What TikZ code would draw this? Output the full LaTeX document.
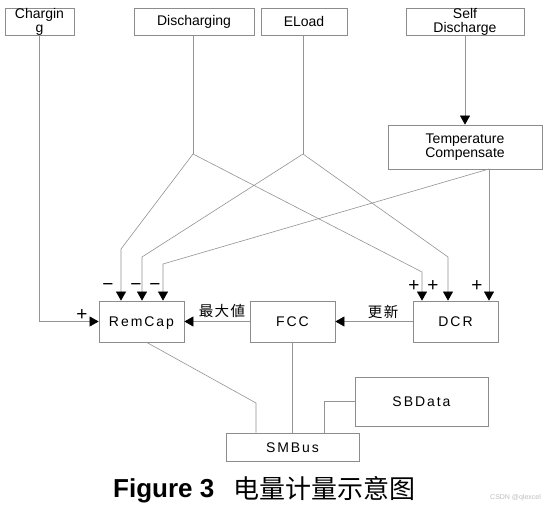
\documentclass[tikz,border=0pt]{standalone}
\usepackage{fontspec}
\setmainfont{Liberation Sans}
\newfontfamily\cjkfont{Noto Sans CJK SC}
\usetikzlibrary{arrows.meta}
\definecolor{boxgray}{HTML}{8C8C8C}
\definecolor{linegray}{HTML}{939393}
\begin{document}
\begin{tikzpicture}[x=1pt,y=-1pt,
  tbox/.style={draw=boxgray, line width=0.8pt, inner sep=0pt, align=center,
    font=\fontsize{14}{14}\selectfont},
  mbox/.style={draw=boxgray, line width=0.8pt, inner sep=0pt,
    minimum width=85pt, minimum height=41pt, text height=10pt, text depth=0pt,
    font=\fontsize{14}{14}\selectfont\addfontfeature{LetterSpace=14}},
  ln/.style={draw=linegray, line width=0.6pt},
  arr/.style={ln, -{Triangle[length=9pt,width=10pt,color=black]}},
  sign/.style={inner sep=0pt, font=\fontsize{19}{19}\selectfont},
  cjklab/.style={inner sep=0pt, font=\fontsize{14.5}{14.5}\cjkfont}
]
\fill[white] (0,0) rectangle (548,510);
\useasboundingbox (0,0) rectangle (548,510);

% top boxes
\node[tbox, minimum width=69pt, minimum height=27pt] (chg) at (39.5,21.5) {Chargin\\g};
\node[tbox, minimum width=120pt, minimum height=27pt] (dis) at (194,21.5) {Discharging};
\node[tbox, minimum width=86pt, minimum height=27pt] (eload) at (304,21.5) {ELoad};
\node[tbox, minimum width=118pt, minimum height=27pt] (selfd) at (465,21.5) {Self\\Discharge};
\node[tbox, minimum width=154pt, minimum height=44pt] (temp) at (465,147) {Temperature\\Compensate};

% main boxes
\node[mbox] (rem) at (141.5,321.5) {RemCap};
\node[mbox] (fcc) at (292.5,321.5) {FCC};
\node[mbox] (dcr) at (455.5,321.5) {DCR};
\node[mbox, minimum width=133pt, minimum height=28pt] (smb) at (292.5,447) {SMBus};
\node[mbox, minimum width=133pt, minimum height=49pt] (sbd) at (421.5,401.5) {SBData};

% junctions and bends
\coordinate (j1) at (193,154);
\coordinate (j2) at (303,154);
\coordinate (t0) at (489,169);
\coordinate (r1) at (121,249);
\coordinate (r2) at (142,257);
\coordinate (r3) at (163,264);
\coordinate (d1) at (422,272);
\coordinate (d2) at (448,257);
\coordinate (b0) at (146,342);
\coordinate (b1) at (256,403);
\coordinate (s1) at (324,401.5);

% connectors
\draw[arr] (chg.south) |- (rem.west);
\draw[ln] (j1 |- dis.south) -- (j1);
\draw[ln] (j2 |- eload.south) -- (j2);
\draw[arr] (selfd.south) -- (temp.north);
\draw[arr] (j1) -- (r1) -- (r1 |- rem.north);
\draw[arr] (j2) -- (r2) -- (r2 |- rem.north);
\draw[arr] (t0) -- (r3) -- (r3 |- rem.north);
\draw[arr] (j1) -- (d1) -- (d1 |- dcr.north);
\draw[arr] (j2) -- (d2) -- (d2 |- dcr.north);
\draw[arr] (t0) -- (t0 |- dcr.north);
\draw[arr] (fcc.west) -- (rem.east);
\draw[arr] (dcr.west) -- (fcc.east);
\draw[ln] (b0) -- (b1) -- (b1 |- smb.north);
\draw[ln] (fcc.south) -- (smb.north);
\draw[ln] (sbd.west) -- (s1) -- (s1 |- smb.north);

% signs
\node[sign] (m1) at (108,287) {−};
\node[sign] (m2) at (136,287) {−};
\node[sign] (m3) at (155,287) {−};
\node[sign] (p1) at (414,286.5) {+};
\node[sign] (p2) at (433,286.5) {+};
\node[sign] (p3) at (477,286.5) {+};
\node[sign] (p0) at (82,315.5) {+};

% labels
\node[cjklab] (lmax) at (222,311) {最\hspace{1.5pt}大\hspace{1.5pt}値};
\node[cjklab] (lupd) at (383,312) {更\hspace{1.5pt}新};

% caption
\node[anchor=base west, inner sep=0pt, font=\fontsize{26}{26}\selectfont\bfseries] (cap1) at (113,497) {Figure 3};
\node[anchor=base west, inner sep=0pt, font=\fontsize{26}{26}\cjkfont] (cap2) at (233,498) {电量计量示意图};
\node[anchor=base west, inner sep=0pt, text=black!25, font=\fontsize{7}{7}\selectfont] (wm) at (490,499) {CSDN @qlexcel};
\end{tikzpicture}
\end{document}
